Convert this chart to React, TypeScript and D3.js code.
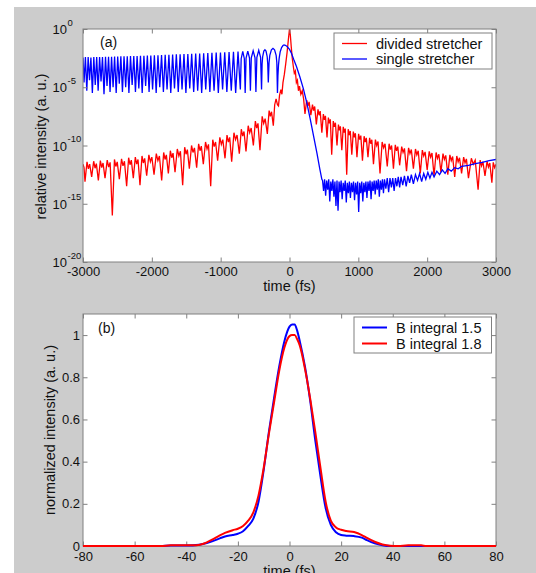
import React, { useEffect, useRef } from 'react';
import * as d3 from 'd3';

// panel (a): time in fs, intensity as log10
const timeTicksA = [-3000, -2000, -1000, 0, 1000, 2000, 3000];
const expTicksA = [0, -5, -10, -15, -20];
const legendA = ['divided stretcher', 'single stretcher'];

const dividedStretcher: [number, number][] = [
  [-3000, -11.6], [-2985, -11.9], [-2971, -13.1],
  [-2942, -11.4], [-2922, -12.0], [-2903, -11.6], [-2874, -12.7],
  [-2845, -11.35], [-2825, -11.95], [-2806, -11.55], [-2777, -13.0],
  [-2748, -11.3], [-2728, -11.9], [-2709, -11.5], [-2680, -12.8],
  [-2648, -11.25], [-2627, -11.85], [-2606, -11.45], [-2574, -16.0],
  [-2543, -11.2], [-2523, -11.8], [-2503, -11.4], [-2472, -12.9],
  [-2440, -11.15], [-2419, -11.75], [-2398, -11.35], [-2366, -13.5],
  [-2337, -11.05], [-2317, -11.65], [-2298, -11.25], [-2269, -12.8],
  [-2240, -11.0], [-2220, -11.6], [-2201, -11.2], [-2172, -13.4],
  [-2143, -10.9], [-2123, -11.5], [-2104, -11.1], [-2075, -12.6],
  [-2043, -10.8], [-2021, -11.4], [-2000, -11.0], [-1968, -12.5],
  [-1935, -10.7], [-1912, -11.3], [-1890, -10.9], [-1857, -13.0],
  [-1828, -10.6], [-1808, -11.2], [-1789, -10.8], [-1760, -12.4],
  [-1731, -10.45], [-1711, -11.05], [-1692, -10.65], [-1663, -12.3],
  [-1630, -10.3], [-1607, -10.9], [-1585, -10.5], [-1552, -13.4],
  [-1523, -10.15], [-1503, -10.75], [-1484, -10.35], [-1455, -12.0],
  [-1423, -10.0], [-1402, -10.6], [-1381, -10.2], [-1349, -11.9],
  [-1320, -9.85], [-1300, -10.45], [-1281, -10.05], [-1252, -11.6],
  [-1220, -9.7], [-1198, -10.3], [-1177, -9.9], [-1145, -13.5],
  [-1115, -9.5], [-1094, -10.1], [-1074, -9.7], [-1044, -11.3],
  [-1012, -9.3], [-990, -9.9], [-969, -9.5], [-937, -11.1],
  [-908, -9.1], [-888, -9.7], [-869, -9.3], [-840, -11.4],
  [-807, -8.9], [-784, -9.5], [-762, -9.1], [-729, -10.7],
  [-700, -8.6], [-680, -9.2], [-661, -8.8], [-632, -10.5],
  [-600, -8.3], [-578, -8.9], [-557, -8.5], [-525, -10.0],
  [-496, -7.9], [-477, -8.5], [-458, -8.1], [-429, -10.4],
  [-397, -7.5], [-375, -8.1], [-354, -7.7], [-322, -9.0],
  [-296, -7.0], [-278, -7.5], [-261, -7.1], [-235, -8.3],
  [-215, -6.5], [-195, -6.0], [-175, -6.5], [-160, -6.6], [-145, -5.7], [-125, -5.2],
  [-110, -5.6], [-95, -4.6], [-75, -3.9], [-55, -3.0], [-35, -2.0], [-18, -1.0], [0, 0],
  [12, -0.5], [25, -1.5], [40, -2.5], [55, -3.2], [70, -3.8], [85, -3.6], [100, -4.6],
  [115, -4.4], [130, -5.3], [145, -4.9], [165, -5.6], [185, -5.3], [205, -6.0], [225, -7.3],
  [250, -6.1], [268, -6.6], [285, -6.25], [310, -7.4],
  [334, -6.5], [350, -7.0], [366, -6.65], [390, -8.2],
  [414, -6.9], [430, -7.4], [446, -7.05], [470, -8.9],
  [492, -7.3], [507, -7.8], [522, -7.45], [545, -9.3],
  [565, -7.6], [579, -8.1], [593, -7.75], [613, -10.8],
  [636, -7.9], [651, -8.4], [667, -8.05], [690, -10.0],
  [711, -8.2], [725, -8.7], [739, -8.35], [760, -10.4],
  [781, -8.4], [795, -8.9], [810, -8.55], [831, -12.5],
  [853, -8.6], [868, -9.1], [883, -8.75], [905, -10.8],
  [927, -8.8], [942, -9.3], [957, -8.95], [980, -11.0],
  [1004, -9.0], [1020, -9.5], [1036, -9.15], [1060, -11.3],
  [1084, -9.2], [1100, -9.7], [1116, -9.35], [1140, -11.0],
  [1164, -9.35], [1180, -9.85], [1196, -9.5], [1220, -11.6],
  [1248, -9.5], [1267, -10.0], [1286, -9.65], [1315, -12.4],
  [1346, -9.7], [1367, -10.2], [1388, -9.85], [1420, -11.8],
  [1447, -9.85], [1465, -10.35], [1483, -10.0], [1510, -12.0],
  [1537, -9.95], [1555, -10.45], [1573, -10.1], [1600, -11.7],
  [1630, -10.1], [1650, -10.6], [1670, -10.25], [1700, -12.2],
  [1730, -10.2], [1750, -10.7], [1770, -10.35], [1800, -12.0],
  [1830, -10.3], [1850, -10.8], [1870, -10.45], [1900, -12.4],
  [1930, -10.4], [1950, -10.9], [1970, -10.55], [2000, -12.1],
  [2030, -10.5], [2050, -11.0], [2070, -10.65], [2100, -12.6],
  [2130, -10.6], [2150, -11.1], [2170, -10.75], [2200, -12.3],
  [2230, -10.7], [2250, -11.2], [2270, -10.85], [2300, -12.5],
  [2330, -10.8], [2350, -11.3], [2370, -10.95], [2400, -12.7],
  [2430, -10.9], [2450, -11.4], [2470, -11.05], [2500, -12.4],
  [2530, -11.0], [2550, -11.5], [2570, -11.15], [2600, -12.8],
  [2642, -11.1], [2670, -11.6], [2698, -11.25], [2740, -13.8],
  [2770, -11.25], [2790, -11.75], [2810, -11.4], [2840, -12.6],
  [2870, -11.35], [2890, -11.85], [2910, -11.5], [2940, -13.2],
  [2960, -11.45], [2980, -11.9], [3000, -11.6],
];

const singleStretcher: [number, number][] = [
  [-3000, -2.45],
  [-2985, -4.6], [-2965, -2.4], [-2945, -5.3], [-2925, -2.4],
  [-2905, -4.4], [-2885, -2.45], [-2864, -5.5], [-2843, -2.4],
  [-2822, -4.8], [-2801, -2.4], [-2780, -5.3], [-2759, -2.4],
  [-2738, -4.5], [-2717, -2.4], [-2695, -5.6], [-2673, -2.38],
  [-2651, -4.9], [-2629, -2.38], [-2607, -5.4], [-2585, -2.38],
  [-2563, -5.0], [-2541, -2.36], [-2518, -5.5], [-2496, -2.36],
  [-2473, -4.7], [-2450, -2.35], [-2427, -5.4], [-2404, -2.35],
  [-2380, -5.0], [-2357, -2.34], [-2333, -5.5], [-2310, -2.33],
  [-2286, -4.8], [-2262, -2.32], [-2238, -5.4], [-2214, -2.31],
  [-2189, -5.1], [-2165, -2.3], [-2140, -5.5], [-2115, -2.3],
  [-2090, -4.9], [-2065, -2.28], [-2040, -5.4], [-2015, -2.27],
  [-1989, -5.2], [-1963, -2.26], [-1937, -5.5], [-1911, -2.25],
  [-1885, -5.0], [-1859, -2.23], [-1832, -5.4], [-1806, -2.22],
  [-1779, -5.2], [-1752, -2.21], [-1725, -5.5], [-1698, -2.2],
  [-1671, -5.1], [-1644, -2.18], [-1616, -5.4], [-1589, -2.17],
  [-1561, -5.2], [-1533, -2.15], [-1505, -5.5], [-1477, -2.14],
  [-1449, -5.1], [-1421, -2.12], [-1392, -5.4], [-1363, -2.11],
  [-1334, -5.3], [-1305, -2.1], [-1276, -5.5], [-1247, -2.08],
  [-1217, -5.2], [-1187, -2.06], [-1157, -5.4], [-1127, -2.05],
  [-1096, -5.3], [-1065, -2.03], [-1034, -5.5], [-1003, -2.02],
  [-972, -5.2], [-941, -2.0], [-910, -5.4], [-878, -1.98],
  [-846, -5.3], [-814, -1.96], [-782, -5.5], [-748, -1.94],
  [-714, -5.2], [-702, -2.55], [-679, -1.92], [-656, -2.55],
  [-644, -5.5], [-631, -2.5], [-606, -1.9], [-581, -2.5],
  [-568, -5.3], [-555, -2.47], [-528, -1.87], [-501, -2.47],
  [-488, -5.4], [-474, -2.43], [-447, -1.83], [-420, -2.43],
  [-406, -5.2], [-398, -3.0], [-390, -2.38], [-373, -1.9], [-357, -1.78], [-341, -1.9], [-324, -2.38], [-316, -3.0],
  [-308, -4.6], [-297, -2.9], [-286, -2.26], [-263, -1.78], [-240, -1.66], [-217, -1.78], [-194, -2.26], [-184, -2.9],
  [-175, -5.5], [-168, -4.0], [-160, -3.1], [-150, -2.5], [-135, -1.95], [-115, -1.6], [-95, -1.42],
  [-79, -1.37], [-60, -1.4], [-35, -1.5], [0, -1.75], [30, -2.1], [60, -2.6], [100, -3.2],
  [150, -4.1], [200, -5.1], [250, -6.3], [300, -7.7], [350, -9.2], [400, -10.7], [440, -12.0], [470, -12.9],
  [480, -13.0], [495, -13.9], [510, -12.9], [525, -14.3], [540, -13.0], [555, -13.8],
  [570, -12.9], [585, -14.8], [600, -13.1], [615, -13.9], [630, -12.9], [645, -14.4],
  [660, -13.1], [675, -15.2], [690, -13.0], [705, -15.6], [720, -13.1], [735, -14.0],
  [750, -13.0], [765, -14.6], [780, -13.2], [795, -13.9], [810, -13.0], [825, -14.9],
  [840, -13.2], [855, -14.1], [870, -13.1], [885, -14.5], [900, -13.2], [915, -14.0],
  [930, -13.1], [945, -14.7], [960, -13.2], [975, -14.2], [990, -13.1], [1005, -15.7],
  [1020, -13.2], [1035, -14.1], [1050, -13.1], [1065, -14.8], [1080, -13.2], [1095, -14.0],
  [1110, -13.1], [1125, -14.5], [1140, -13.1], [1155, -13.9], [1170, -13.0], [1185, -14.6],
  [1200, -13.1], [1215, -13.9], [1230, -13.0], [1245, -14.2], [1260, -13.0], [1275, -13.8],
  [1290, -12.9], [1305, -14.4], [1320, -13.0], [1335, -13.8], [1350, -12.9], [1365, -14.1],
  [1380, -12.9], [1400, -13.7], [1420, -12.8], [1440, -14.0], [1460, -12.8], [1480, -13.6],
  [1500, -12.8], [1520, -13.9], [1540, -12.8], [1560, -13.5], [1580, -12.7], [1600, -13.6],
  [1620, -12.7], [1645, -13.4], [1670, -12.6], [1695, -13.5], [1720, -12.6], [1745, -13.2],
  [1770, -12.5], [1800, -13.3], [1830, -12.5], [1860, -13.0], [1890, -12.4], [1920, -13.1],
  [1950, -12.4], [1980, -12.9], [2010, -12.3], [2040, -12.8], [2070, -12.3], [2100, -12.7],
  [2140, -12.2], [2180, -12.5], [2220, -12.1], [2260, -12.4], [2300, -12.0], [2350, -12.2],
  [2400, -11.9], [2450, -12.0], [2500, -11.8], [2600, -11.7], [2700, -11.55], [2800, -11.45],
  [2900, -11.3], [3000, -11.2],
];

// panel (b): time in fs, normalized intensity
const timeTicksB = [-80, -60, -40, -20, 0, 20, 40, 60, 80];
const intTicksB = [0, 0.2, 0.4, 0.6, 0.8, 1];
const legendB = ['B integral 1.5', 'B integral 1.8'];

const bIntegral15: [number, number][] = [
  [-80, 0], [-50, 0], [-46, 0.002], [-40, 0.002], [-35, 0.006], [-32, 0.014], [-30, 0.022],
  [-27, 0.036], [-25, 0.045], [-22, 0.052], [-20, 0.058], [-18, 0.07], [-16, 0.095],
  [-14, 0.13], [-12, 0.21], [-10, 0.36], [-8, 0.54], [-6, 0.7], [-4, 0.85], [-2, 0.97],
  [0, 1.04], [1, 1.05], [2, 1.05], [3, 1.02], [4, 0.97], [6, 0.85], [8, 0.69], [10, 0.5],
  [12, 0.33], [14, 0.18], [16, 0.1], [18, 0.065], [20, 0.052], [22, 0.049], [25, 0.047],
  [28, 0.04], [30, 0.028], [33, 0.013], [36, 0.004], [39, 0], [50, 0], [80, 0],
];

const bIntegral18: [number, number][] = [
  [-80, 0], [-50, 0], [-46, 0.003], [-40, 0.004], [-36, 0.004], [-33, 0.012], [-30, 0.03],
  [-27, 0.05], [-25, 0.062], [-22, 0.075], [-20, 0.082], [-18, 0.095], [-16, 0.12],
  [-14, 0.16], [-12, 0.24], [-10, 0.37], [-8, 0.53], [-6, 0.68], [-4, 0.83], [-2, 0.94],
  [0, 0.995], [1, 1.0], [2, 1.0], [3, 0.98], [4, 0.95], [6, 0.84], [8, 0.7], [10, 0.54],
  [12, 0.37], [14, 0.21], [16, 0.12], [18, 0.088], [20, 0.077], [22, 0.071], [25, 0.066],
  [28, 0.052], [30, 0.038], [33, 0.02], [36, 0.007], [39, 0.001], [42, 0], [46, 0.003],
  [51, 0.003], [53, 0], [80, 0],
];

const FONT = '"Liberation Sans", Arial, Helvetica, sans-serif';
const AXIS = '#808080';

function styleAxis(g: d3.Selection<SVGGElement, unknown, null, undefined>) {
  g.select('.domain').remove();
  g.selectAll('line').attr('stroke', AXIS);
  g.selectAll('text').attr('fill', '#111').attr('font-size', 13).attr('font-family', FONT);
}

export default function App() {
  const ref = useRef<SVGSVGElement>(null);

  useEffect(() => {
    const svg = d3.select(ref.current);
    svg.selectAll('*').remove();
    const W = 536, H = 573;
    const left = 83, right = 496;

    svg.append('rect').attr('width', W).attr('height', H).attr('fill', '#fff');
    svg.append('rect').attr('x', 14).attr('y', 7).attr('width', W - 14).attr('height', H - 7).attr('fill', '#cccccc');

    // ---------- panel (a)
    const topA = 29, bottomA = 262;
    const xa = d3.scaleLinear().domain([-3000, 3000]).range([left, right]);
    const ya = d3.scaleLog().domain([1e-20, 1]).range([bottomA, topA]);

    svg.append('rect').attr('x', left).attr('y', topA).attr('width', right - left)
      .attr('height', bottomA - topA).attr('fill', '#fff');

    svg.append('defs').append('clipPath').attr('id', 'clipA').append('rect')
      .attr('x', left).attr('y', topA).attr('width', right - left).attr('height', bottomA - topA);

    const lineA = d3.line<[number, number]>()
      .x(d => xa(d[0]))
      .y(d => ya(Math.pow(10, d[1])));

    const curvesA = svg.append('g').attr('clip-path', 'url(#clipA)');
    curvesA.append('path').datum(dividedStretcher).attr('d', lineA)
      .attr('fill', 'none').attr('stroke', '#ff0000').attr('stroke-width', 1.3);
    curvesA.append('path').datum(singleStretcher).attr('d', lineA)
      .attr('fill', 'none').attr('stroke', '#0000ff').attr('stroke-width', 1.3);

    const logTicks = expTicksA.map(e => Math.pow(10, e));
    styleAxis(svg.append('g').attr('transform', `translate(0,${bottomA})`)
      .call(d3.axisBottom(xa).tickValues(timeTicksA).tickSize(-4.5).tickPadding(5).tickFormat(d => String(d))));
    styleAxis(svg.append('g').attr('transform', `translate(0,${topA})`)
      .call(d3.axisTop(xa).tickValues(timeTicksA).tickSize(-4.5).tickFormat(() => '')));
    styleAxis(svg.append('g').attr('transform', `translate(${left},0)`)
      .call(d3.axisLeft(ya).tickValues(logTicks).tickSize(-4.5).tickFormat(() => '')));
    styleAxis(svg.append('g').attr('transform', `translate(${right},0)`)
      .call(d3.axisRight(ya).tickValues(logTicks).tickSize(-4.5).tickFormat(() => '')));

    svg.append('rect').attr('x', left).attr('y', topA).attr('width', right - left)
      .attr('height', bottomA - topA).attr('fill', 'none').attr('stroke', AXIS);

    const expLabels = svg.append('g').attr('font-family', FONT).attr('fill', '#111');
    expTicksA.forEach(e => {
      const y = ya(Math.pow(10, e));
      expLabels.append('text').attr('x', 52.5).attr('y', y + 5).attr('font-size', 13).text('10');
      expLabels.append('text').attr('x', 67.5).attr('y', y - 3.5).attr('font-size', 9.5).text(String(e));
    });

    svg.append('text').attr('x', 100).attr('y', 47).attr('font-family', FONT)
      .attr('font-size', 14).attr('fill', '#111').text('(a)');
    svg.append('text').attr('x', (left + right) / 2).attr('y', 291).attr('text-anchor', 'middle')
      .attr('font-family', FONT).attr('font-size', 14.5).attr('fill', '#111').text('time (fs)');
    svg.append('text').attr('transform', `translate(45.5,${(topA + bottomA) / 2 + 1}) rotate(-90)`)
      .attr('text-anchor', 'middle').attr('font-family', FONT).attr('font-size', 14.5)
      .attr('fill', '#111').text('relative intensity (a. u.)');

    const legA = svg.append('g');
    legA.append('rect').attr('x', 334).attr('y', 33).attr('width', 158).attr('height', 36)
      .attr('fill', '#fff').attr('stroke', AXIS);
    [ '#ff0000', '#0000ff' ].forEach((c, i) => {
      const y = 43.5 + i * 15.5;
      legA.append('line').attr('x1', 342).attr('x2', 367).attr('y1', y).attr('y2', y)
        .attr('stroke', c).attr('stroke-width', 1.3);
      legA.append('text').attr('x', 376).attr('y', y + 5).attr('font-family', FONT)
        .attr('font-size', 14.5).attr('fill', '#111').text(legendA[i]);
    });

    // ---------- panel (b)
    const topB = 314, bottomB = 546;
    const xb = d3.scaleLinear().domain([-80, 80]).range([left, right]);
    const yb = d3.scaleLinear().domain([0, 1.1]).range([bottomB, topB]);

    svg.append('rect').attr('x', left).attr('y', topB).attr('width', right - left)
      .attr('height', bottomB - topB).attr('fill', '#fff').attr('stroke', AXIS);

    styleAxis(svg.append('g').attr('transform', `translate(0,${bottomB})`)
      .call(d3.axisBottom(xb).tickValues(timeTicksB).tickSize(-4.5).tickPadding(5.5).tickFormat(d => String(d))));
    styleAxis(svg.append('g').attr('transform', `translate(0,${topB})`)
      .call(d3.axisTop(xb).tickValues(timeTicksB).tickSize(-4.5).tickFormat(() => '')));
    styleAxis(svg.append('g').attr('transform', `translate(${left},0)`)
      .call(d3.axisLeft(yb).tickValues(intTicksB).tickSize(-4.5).tickPadding(3).tickFormat(d => String(d))));
    styleAxis(svg.append('g').attr('transform', `translate(${right},0)`)
      .call(d3.axisRight(yb).tickValues(intTicksB).tickSize(-4.5).tickFormat(() => '')));

    const lineB = d3.line<[number, number]>()
      .x(d => xb(d[0]))
      .y(d => yb(d[1]))
      .curve(d3.curveMonotoneX);
    svg.append('path').datum(bIntegral15).attr('d', lineB)
      .attr('fill', 'none').attr('stroke', '#0000ff').attr('stroke-width', 2);
    svg.append('path').datum(bIntegral18).attr('d', lineB)
      .attr('fill', 'none').attr('stroke', '#ff0000').attr('stroke-width', 2);

    svg.append('text').attr('x', 98).attr('y', 333).attr('font-family', FONT)
      .attr('font-size', 14).attr('fill', '#111').text('(b)');
    svg.append('text').attr('x', (left + right) / 2).attr('y', 575.5).attr('text-anchor', 'middle')
      .attr('font-family', FONT).attr('font-size', 14.5).attr('fill', '#111').text('time (fs)');
    svg.append('text').attr('transform', `translate(54.5,${(topB + bottomB) / 2}) rotate(-90)`)
      .attr('text-anchor', 'middle').attr('font-family', FONT).attr('font-size', 14.5)
      .attr('fill', '#111').text('normalized intensity (a. u.)');

    const legB = svg.append('g');
    legB.append('rect').attr('x', 354).attr('y', 317).attr('width', 137.5).attr('height', 36)
      .attr('fill', '#fff').attr('stroke', AXIS);
    [ '#0000ff', '#ff0000' ].forEach((c, i) => {
      const y = 327.5 + i * 16;
      legB.append('line').attr('x1', 362).attr('x2', 387).attr('y1', y).attr('y2', y)
        .attr('stroke', c).attr('stroke-width', 2);
      legB.append('text').attr('x', 396).attr('y', y + 5).attr('font-family', FONT)
        .attr('font-size', 14.5).attr('fill', '#111').text(legendB[i]);
    });
  }, []);

  return (
    <svg ref={ref} width={536} height={573} style={{ position: 'absolute', left: 0, top: 0 }} />
  );
}
